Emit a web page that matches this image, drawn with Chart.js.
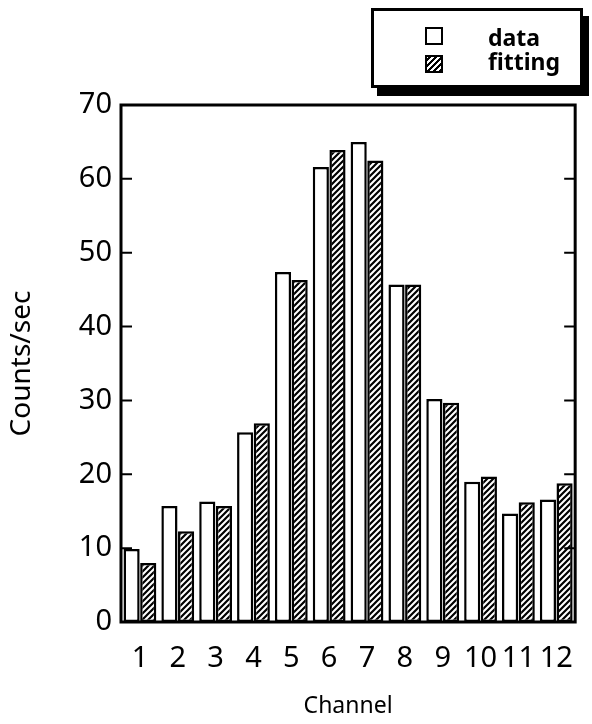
<!DOCTYPE html>
<html>
<head>
<meta charset="utf-8">
<script src="https://cdn.jsdelivr.net/npm/chart.js@4/dist/chart.umd.min.js"></script>
<style>
  body { margin: 0; background: #fff; }
  #wrap { position: relative; width: 592px; height: 724px; }
  #legend {
    position: absolute; left: 371px; top: 8px; width: 206px; height: 74px;
    border: 3px solid #000; background: #fff; box-shadow: 6px 8px 0 #000;
    font-family: "Noto Sans", sans-serif; font-weight: bold; font-size: 23px; color: #000;
  }
  .sw { position: absolute; left: 51px; width: 14px; height: 14px; border: 2px solid #000; background: #fff; }
  .sw.hatch { background: repeating-linear-gradient(-45deg, #000 0 2px, #fff 2px 4.2px); }
  .lab { position: absolute; left: 114px; line-height: 23px; }
</style>
</head>
<body>
<div id="wrap">
  <canvas id="myChart" width="592" height="724"></canvas>
  <div id="legend">
    <div class="sw" style="top:16px"></div><span class="lab" style="top:15px">data</span>
    <div class="sw hatch" style="top:44px"></div><span class="lab" style="top:39px">fitting</span>
  </div>
</div>
<script>
    // Counts per channel: measured data vs. fitted values

    const channels = ['1', '2', '3', '4', '5', '6', '7', '8', '9', '10', '11', '12'];
    const dataCounts = [9.9, 15.7, 16.3, 25.7, 47.4, 61.6, 65.0, 45.7, 30.2, 19.0, 14.7, 16.6];
    const fitCounts = [8.0, 12.3, 15.7, 26.9, 46.3, 63.9, 62.5, 45.7, 29.7, 19.7, 16.2, 18.8];
    const yTicks = [0, 10, 20, 30, 40, 50, 60, 70];

    // hatch pattern for the fitting bars
    const pc = document.createElement('canvas');
    pc.width = 6;
    pc.height = 6;
    const px = pc.getContext('2d');
    px.fillStyle = '#fff';
    px.fillRect(0, 0, 6, 6);
    px.strokeStyle = '#000';
    px.lineWidth = 2.2;
    px.beginPath();
    px.moveTo(-1, 7); px.lineTo(7, -1);
    px.moveTo(-4, 4); px.lineTo(4, -4);
    px.moveTo(2, 10); px.lineTo(10, 2);
    px.stroke();
    const hatch = document.getElementById('myChart').getContext('2d').createPattern(pc, 'repeat');

    // frame around the plot with inward ticks on both sides
    const frame = {
        id: 'frame',
        afterDraw(chart) {
            const ctx = chart.ctx;
            const a = chart.chartArea;
            const y = chart.scales.y;
            ctx.save();
            ctx.strokeStyle = '#000';
            ctx.lineWidth = 3;
            ctx.strokeRect(a.left, a.top, a.right - a.left, a.bottom - a.top);
            ctx.lineWidth = 2;
            ctx.beginPath();
            yTicks.forEach(v => {
                const py = y.getPixelForValue(v);
                ctx.moveTo(a.left, py); ctx.lineTo(a.left + 11, py);
                ctx.moveTo(a.right, py); ctx.lineTo(a.right - 11, py);
            });
            ctx.stroke();
            ctx.restore();
        }
    };

    const config = {
        type: 'bar',
        data: {
            labels: channels,
            datasets: [{
                label: 'data',
                data: dataCounts,
                backgroundColor: '#fff',
                borderColor: '#000',
                borderWidth: 2.5,
                borderSkipped: false,
                categoryPercentage: 0.88,
                barPercentage: 0.97
            }, {
                label: 'fitting',
                data: fitCounts,
                backgroundColor: hatch,
                borderColor: '#000',
                borderWidth: 2.5,
                borderSkipped: false,
                categoryPercentage: 0.88,
                barPercentage: 0.97
            }]
        },
        options: {
            responsive: false,
            devicePixelRatio: 1,
            animation: false,
            layout: { padding: { top: 105, right: 4, left: 0, bottom: 0 } },
            plugins: {
                legend: { display: false },
                tooltip: { enabled: false }
            },
            scales: {
                x: {
                    grid: { display: false, drawTicks: false },
                    border: { display: false },
                    ticks: {
                        color: '#000', padding: 19, maxRotation: 0, autoSkip: false,
                        font: { family: 'Noto Sans', size: 29 }
                    },
                    title: {
                        display: true, text: 'Channel', color: '#000',
                        font: { family: 'Noto Sans', size: 23 },
                        padding: { top: 0, bottom: 4 }
                    },
                    afterFit(s) { s.height = 102; }
                },
                y: {
                    min: 0,
                    max: 70,
                    grid: { display: false, drawTicks: false },
                    border: { display: false },
                    ticks: {
                        stepSize: 10, color: '#000', padding: 9,
                        font: { family: 'Noto Sans', size: 29 }
                    },
                    title: {
                        display: true, text: 'Counts/sec', color: '#000',
                        font: { family: 'Noto Sans', size: 28 },
                        padding: { top: 5, bottom: 0 }
                    },
                    afterFit(s) { s.width = 121; }
                }
            }
        },
        plugins: [frame]
    };

    const myChart = new Chart(
        document.getElementById('myChart'),
        config
    );
</script>
</body>
</html>
